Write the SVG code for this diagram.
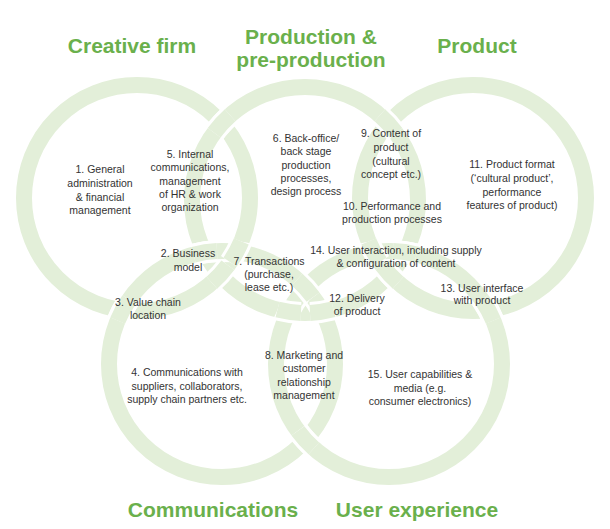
<svg xmlns="http://www.w3.org/2000/svg" width="610" height="529" viewBox="0 0 610 529">
<style>
.halo{fill:none;stroke:#ffffff;stroke-width:22}
.ring{fill:none;stroke:#e3efd9;stroke-width:16}
.seg{stroke-dasharray:12 348}
.title{font-family:"Liberation Sans",Arial,sans-serif;font-weight:bold;font-size:21px;fill:#6ab04c;text-anchor:middle}
.lbl{font-family:"Liberation Sans",Arial,sans-serif;font-size:10.5px;fill:#333333;text-anchor:middle}
</style>
<rect width="610" height="529" fill="#ffffff"/>
<g id="connectors">
  <g id="ring-base">
    <circle class="halo" cx="137" cy="198" r="113"/><circle class="ring" cx="137" cy="198" r="113"/>
    <circle class="halo" cx="305" cy="200" r="113"/><circle class="ring" cx="305" cy="200" r="113"/>
    <circle class="halo" cx="473" cy="198" r="113"/><circle class="ring" cx="473" cy="198" r="113"/>
    <circle class="halo" cx="222" cy="364" r="113"/><circle class="ring" cx="222" cy="364" r="113"/>
    <circle class="halo" cx="389" cy="364" r="113"/><circle class="ring" cx="389" cy="364" r="113"/>
  </g>
  <g id="ring-interlace">
    <circle class="halo seg" pathLength="360" stroke-dashoffset="-216.5" cx="305" cy="200" r="113"/><circle class="ring seg" pathLength="360" stroke-dashoffset="-216.5" cx="305" cy="200" r="113"/>
    <circle class="halo seg" pathLength="360" stroke-dashoffset="-36.5" cx="137" cy="198" r="113"/><circle class="ring seg" pathLength="360" stroke-dashoffset="-36.5" cx="137" cy="198" r="113"/>
    <circle class="halo seg" pathLength="360" stroke-dashoffset="-311.5" cx="305" cy="200" r="113"/><circle class="ring seg" pathLength="360" stroke-dashoffset="-311.5" cx="305" cy="200" r="113"/>
    <circle class="halo seg" pathLength="360" stroke-dashoffset="-131.5" cx="473" cy="198" r="113"/><circle class="ring seg" pathLength="360" stroke-dashoffset="-131.5" cx="473" cy="198" r="113"/>
    <circle class="halo seg" pathLength="360" stroke-dashoffset="-202.6" cx="222" cy="364" r="113"/><circle class="ring seg" pathLength="360" stroke-dashoffset="-202.6" cx="222" cy="364" r="113"/>
    <circle class="halo seg" pathLength="360" stroke-dashoffset="-22.6" cx="137" cy="198" r="113"/><circle class="ring seg" pathLength="360" stroke-dashoffset="-22.6" cx="137" cy="198" r="113"/>
    <circle class="halo seg" pathLength="360" stroke-dashoffset="-255.4" cx="222" cy="364" r="113"/><circle class="ring seg" pathLength="360" stroke-dashoffset="-255.4" cx="222" cy="364" r="113"/>
    <circle class="halo seg" pathLength="360" stroke-dashoffset="-75.4" cx="305" cy="200" r="113"/><circle class="ring seg" pathLength="360" stroke-dashoffset="-75.4" cx="305" cy="200" r="113"/>
    <circle class="halo seg" pathLength="360" stroke-dashoffset="-272.1" cx="389" cy="364" r="113"/><circle class="ring seg" pathLength="360" stroke-dashoffset="-272.1" cx="389" cy="364" r="113"/>
    <circle class="halo seg" pathLength="360" stroke-dashoffset="-92.1" cx="305" cy="200" r="113"/><circle class="ring seg" pathLength="360" stroke-dashoffset="-92.1" cx="305" cy="200" r="113"/>
    <circle class="halo seg" pathLength="360" stroke-dashoffset="-325.4" cx="389" cy="364" r="113"/><circle class="ring seg" pathLength="360" stroke-dashoffset="-325.4" cx="389" cy="364" r="113"/>
    <circle class="halo seg" pathLength="360" stroke-dashoffset="-145.4" cx="473" cy="198" r="113"/><circle class="ring seg" pathLength="360" stroke-dashoffset="-145.4" cx="473" cy="198" r="113"/>
    <circle class="halo seg" pathLength="360" stroke-dashoffset="-311.7" cx="222" cy="364" r="113"/><circle class="ring seg" pathLength="360" stroke-dashoffset="-311.7" cx="222" cy="364" r="113"/>
    <circle class="halo seg" pathLength="360" stroke-dashoffset="-131.7" cx="389" cy="364" r="113"/><circle class="ring seg" pathLength="360" stroke-dashoffset="-131.7" cx="389" cy="364" r="113"/>
  </g>
</g>
<g id="titles">
  <text id="t-creative" class="title" x="132" y="53">Creative firm</text>
  <text id="t-production" class="title"><tspan x="311" y="44">Production &amp;</tspan><tspan x="311" y="67">pre-production</tspan></text>
  <text id="t-product" class="title" x="477" y="53">Product</text>
  <text id="t-communications" class="title" x="213" y="517">Communications</text>
  <text id="t-userexp" class="title" x="417" y="517">User experience</text>
</g>
<g id="n1"><text class="lbl"><tspan x="100" y="173">1. General</tspan><tspan x="100" y="187">administration</tspan><tspan x="100" y="201">&amp; financial</tspan><tspan x="100" y="214">management</tspan></text></g>
<g id="n2"><text class="lbl"><tspan x="188" y="257">2. Business</tspan><tspan x="188" y="271">model</tspan></text></g>
<g id="n3"><text class="lbl"><tspan x="148" y="306">3. Value chain</tspan><tspan x="148" y="319">location</tspan></text></g>
<g id="n4"><text class="lbl"><tspan x="187" y="376">4. Communications with</tspan><tspan x="187" y="390">suppliers, collaborators,</tspan><tspan x="187" y="403">supply chain partners etc.</tspan></text></g>
<g id="n5"><text class="lbl"><tspan x="190" y="158">5. Internal</tspan><tspan x="190" y="171">communications,</tspan><tspan x="190" y="185">management</tspan><tspan x="190" y="198">of HR &amp; work</tspan><tspan x="190" y="211">organization</tspan></text></g>
<g id="n6"><text class="lbl"><tspan x="306" y="142">6. Back-office/</tspan><tspan x="306" y="155">back stage</tspan><tspan x="306" y="169">production</tspan><tspan x="306" y="182">processes,</tspan><tspan x="306" y="195">design process</tspan></text></g>
<g id="n7"><text class="lbl"><tspan x="269" y="265">7. Transactions</tspan><tspan x="269" y="278">(purchase,</tspan><tspan x="269" y="291">lease etc.)</tspan></text></g>
<g id="n8"><text class="lbl"><tspan x="304" y="359">8. Marketing and</tspan><tspan x="304" y="372">customer</tspan><tspan x="304" y="386">relationship</tspan><tspan x="304" y="399">management</tspan></text></g>
<g id="n9"><text class="lbl"><tspan x="391" y="137">9. Content of</tspan><tspan x="391" y="151">product</tspan><tspan x="391" y="165">(cultural</tspan><tspan x="391" y="178">concept etc.)</tspan></text></g>
<g id="n10"><text class="lbl"><tspan x="392" y="210">10. Performance and</tspan><tspan x="392" y="223">production processes</tspan></text></g>
<g id="n11"><text class="lbl"><tspan x="512" y="168">11. Product format</tspan><tspan x="512" y="182">(‘cultural product’,</tspan><tspan x="512" y="196">performance</tspan><tspan x="512" y="209">features of product)</tspan></text></g>
<g id="n12"><text class="lbl"><tspan x="357" y="302">12. Delivery</tspan><tspan x="357" y="315">of product</tspan></text></g>
<g id="n13"><text class="lbl"><tspan x="482" y="292">13. User interface</tspan><tspan x="482" y="304">with product</tspan></text></g>
<g id="n14"><text class="lbl"><tspan x="396" y="254">14. User interaction, including supply</tspan><tspan x="396" y="267">&amp; configuration of content</tspan></text></g>
<g id="n15"><text class="lbl"><tspan x="420" y="378">15. User capabilities &amp;</tspan><tspan x="420" y="392">media (e.g.</tspan><tspan x="420" y="405">consumer electronics)</tspan></text></g>
</svg>
